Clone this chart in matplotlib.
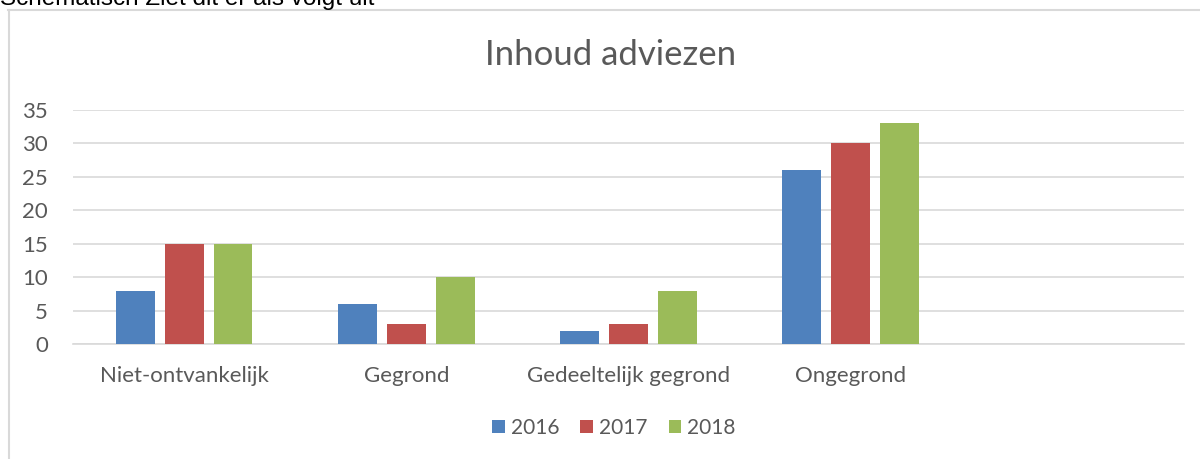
import numpy as np
import matplotlib
matplotlib.use('Agg')
import matplotlib.pyplot as plt
from matplotlib.lines import Line2D

# Data
categories = ['Niet-ontvankelijk', 'Gegrond', 'Gedeeltelijk gegrond', 'Ongegrond', '']
years = ['2016', '2017', '2018']
values_2016 = [8, 6, 2, 26, np.nan]
values_2017 = [15, 3, 3, 30, np.nan]
values_2018 = [15, 10, 8, 33, np.nan]
colors = ['#4f81bd', '#c0504d', '#9bbb59']

plt.rcParams['font.family'] = ['Lato', 'DejaVu Sans']
txt = '#595959'

fig = plt.figure(figsize=(12, 4.59), dpi=100)
ax = fig.add_axes([73 / 1200, 1 - 344 / 459, (1184 - 73) / 1200, 234 / 459])

x = np.arange(len(categories))
width = 0.175
step = 0.22
for i, (vals, col, lab) in enumerate(zip([values_2016, values_2017, values_2018], colors, years)):
    ax.bar(x + (i - 1) * step, vals, width, color=col, label=lab, zorder=3)

ax.set_xlim(-0.5, len(categories) - 0.5)
ax.set_ylim(0, 35)
ax.set_yticks(range(0, 36, 5))
ax.yaxis.grid(True, color='#d9d9d9', linewidth=1.2, zorder=0)
ax.set_xticks(x)
ax.set_xticklabels(categories)
ax.tick_params(axis='both', length=0, labelsize=16, labelcolor=txt)
ax.tick_params(axis='x', pad=16)
ax.tick_params(axis='y', pad=18)
for s in ['top', 'right', 'left']:
    ax.spines[s].set_visible(False)
ax.spines['bottom'].set_color('#d9d9d9')
ax.spines['bottom'].set_linewidth(1.2)

fig.text(611 / 1200, 1 - 55 / 459, 'Inhoud adviezen', ha='center', va='center',
         fontsize=25, color=txt)

ax.legend(loc='center', bbox_to_anchor=(614 / 1200, 1 - 428 / 459),
          bbox_transform=fig.transFigure, ncol=3, frameon=False, fontsize=15,
          handlelength=0.6, handleheight=0.6, handletextpad=0.3, columnspacing=1.0,
          labelcolor=txt)

# chart border (only left and top visible in the crop) and clipped caption above
fig.add_artist(Line2D([8.5 / 1200, 8.5 / 1200], [0, 1 - 10 / 459], color='#d9d9d9', linewidth=1.5))
fig.add_artist(Line2D([8 / 1200, 1], [1 - 10 / 459, 1 - 10 / 459], color='#d9d9d9', linewidth=1.5))
fig.text(0, 1 - 5 / 459, 'Schematisch Ziet dit er als volgt uit', ha='left', va='baseline',
         fontsize=17.5, color='black', family=['Liberation Sans', 'DejaVu Sans'])

fig.savefig('out.png', dpi=100)
